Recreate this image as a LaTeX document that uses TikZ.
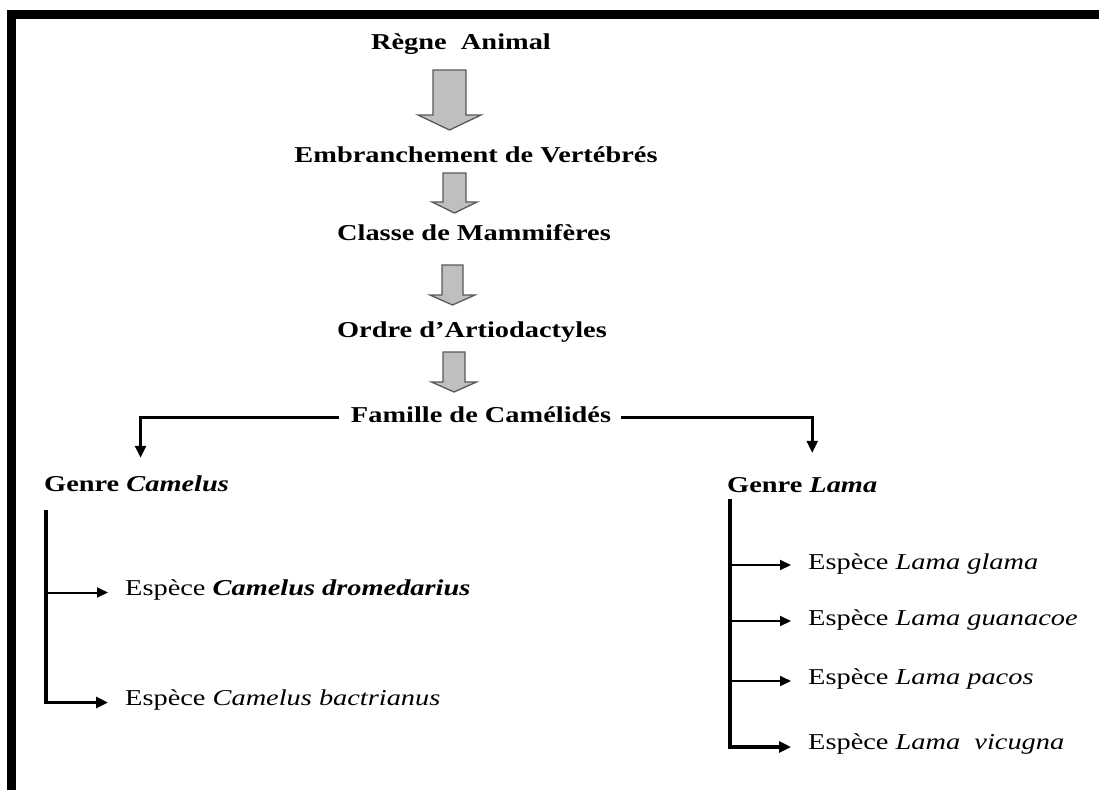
\documentclass[tikz,border=0pt]{standalone}
\usepackage{fontspec}
\setmainfont{Liberation Serif}[FakeStretch=1.25]
\usetikzlibrary{arrows.meta}
\tikzset{
  lbl/.style={inner sep=0pt, text height=15pt, text depth=5pt, font=\fontsize{22.7}{27}\selectfont},
  title/.style={lbl, anchor=base, font=\fontsize{22.7}{27}\selectfont\bfseries},
  leftlbl/.style={lbl, anchor=base west},
  blk/.style={draw=black!65, fill=black!25, line width=1.3pt, line join=miter},
  famline/.style={line width=2.6pt, -{Triangle[length=12pt,width=11pt]}},
  branch/.style={line width=2pt, -{Triangle[length=11pt,width=10pt]}},
  lastbranch/.style={line width=3.8pt, -{Triangle[length=12pt,width=11pt]}},
  framebar/.style={line width=8.5pt},
}
\newcommand\blkarrow[6]{% x, top, base, tip, halfshaft, halfhead
  \draw[blk] (#1-#5,#2) -- (#1+#5,#2) -- (#1+#5,#3) -- (#1+#6,#3) -- (#1,#4) -- (#1-#6,#3) -- (#1-#5,#3) -- cycle;}
\begin{document}
\begin{tikzpicture}[x=1pt,y=-1pt]
\useasboundingbox (0,0) rectangle (1099,790);
\fill[white] (0,0) rectangle (1099,790);
% frame
\draw[framebar] (11.5,790) -- (11.5,14.3) -- (1099,14.3);

% titles
\node[title] (regne)  at (461,49.5)  {Règne\ \ Animal};
\node[title] (emb)    at (476,162.5) {Embranchement de Vertébrés};
\node[title] (classe) at (474,240.5) {Classe de Mammifères};
\node[title] (ordre)  at (472,337.5) {Ordre d’Artiodactyles};
\node[title] (fam)    at (481,422.5) {Famille de Camélidés};

% block arrows
\blkarrow{449.5}{70}{115}{130}{16.5}{31.5}
\blkarrow{454.5}{173}{202}{213}{11.5}{22.5}
\blkarrow{452.5}{265}{295}{305}{10.5}{22.5}
\blkarrow{454}{352}{382}{392}{11}{22.5}

% genera
\node[leftlbl] (gcam)  at (44,491)  {\bfseries Genre \textit{Camelus}};
\node[leftlbl] (glama) at (727,492) {\bfseries Genre \textit{Lama}};

\draw[famline] ([xshift=-12pt]fam.west) -| ([xshift=4pt,yshift=18pt]gcam.north);
\draw[famline] ([xshift=10pt]fam.east) -| ([xshift=10pt,yshift=24pt]glama.north);

% Camelus species
\node[leftlbl] (ecd) at (125,595.5) {Espèce \textbf{\textit{Camelus dromedarius}}};
\node[leftlbl] (ecb) at (125,705.5) {Espèce \textit{Camelus bactrianus}};
\coordinate (camtop) at (46,510);
\coordinate (t1) at ([xshift=-17pt,yshift=-2pt]ecd.west);
\coordinate (t2) at ([xshift=-17pt,yshift=-2pt]ecb.west);
\draw[branch] (camtop |- t1) -- (t1);
\draw[lastbranch] (camtop) |- (t2);

% Lama species
\node[leftlbl] (lg)  at (808,569) {Espèce \textit{Lama glama}};
\node[leftlbl] (lgu) at (808,625) {Espèce \textit{Lama guanacoe}};
\node[leftlbl] (lp)  at (808,684) {Espèce \textit{Lama pacos}};
\node[leftlbl] (lv)  at (808,749) {Espèce \textit{Lama}\ \ \textit{vicugna}};
\coordinate (lamtop) at (730,499);
\coordinate (u1) at ([xshift=-17pt,yshift=-1pt]lg.west);
\coordinate (u2) at ([xshift=-17pt,yshift=-1pt]lgu.west);
\coordinate (u3) at ([xshift=-17pt,yshift=-2pt]lp.west);
\coordinate (u4) at ([xshift=-17pt,yshift=-3pt]lv.west);
\draw[branch] (lamtop |- u1) -- (u1);
\draw[branch] (lamtop |- u2) -- (u2);
\draw[branch] (lamtop |- u3) -- (u3);
\draw[lastbranch] (lamtop) |- (u4);
\end{tikzpicture}
\end{document}
